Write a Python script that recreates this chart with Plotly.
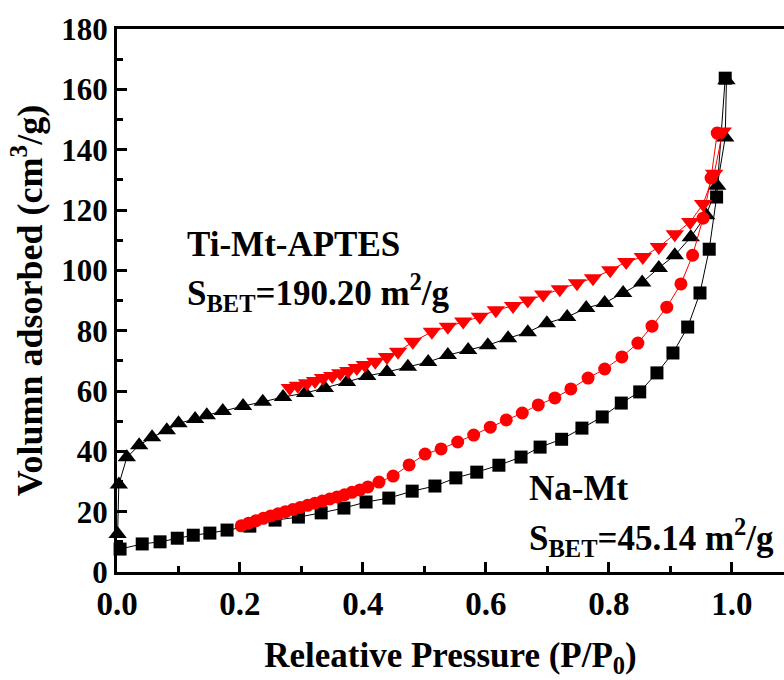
import plotly.graph_objects as go

# Na-Mt adsorption branch (black squares)
na_ads_p = [0.005, 0.041, 0.070, 0.098, 0.124, 0.151, 0.179, 0.216, 0.257, 0.295, 0.332,
            0.369, 0.405, 0.442, 0.480, 0.517, 0.551, 0.585, 0.621, 0.657, 0.688, 0.723,
            0.756, 0.789, 0.820, 0.850, 0.878, 0.904, 0.928, 0.948, 0.963, 0.975, 0.989]
na_ads_v = [7.6, 9.3, 10.0, 11.2, 12.2, 12.9, 13.9, 15.2, 17.2, 18.2, 19.6,
            21.2, 23.2, 24.5, 26.8, 28.5, 31.2, 33.1, 35.4, 38.1, 41.4, 44.0,
            47.7, 51.4, 56.0, 59.7, 66.0, 72.6, 81.2, 92.5, 107.0, 124.3, 163.7]

# Na-Mt desorption branch (red circles)
na_des_p = [0.976, 0.966, 0.953, 0.936, 0.917, 0.894, 0.870, 0.847, 0.821, 0.793, 0.766,
            0.738, 0.712, 0.685, 0.659, 0.633, 0.607, 0.580, 0.554, 0.527, 0.501, 0.475,
            0.449, 0.426, 0.408, 0.395, 0.382, 0.370, 0.358, 0.346, 0.334, 0.322, 0.310,
            0.298, 0.286, 0.274, 0.262, 0.250, 0.238, 0.226, 0.214, 0.202]
na_des_v = [145.5, 130.6, 117.3, 105.0, 95.5, 87.8, 81.5, 75.9, 71.3, 67.3, 64.3,
            60.7, 57.7, 55.4, 52.7, 50.4, 48.0, 45.4, 43.1, 40.8, 39.1, 35.5,
            31.8, 29.8, 28.2, 27.2, 26.4, 25.6, 24.9, 24.2, 23.5, 22.8, 22.1,
            21.4, 20.7, 20.0, 19.3, 18.6, 17.8, 17.0, 16.2, 15.3]

# Ti-Mt-APTES adsorption branch (black up-triangles)
ti_ads_p = [0.001, 0.003, 0.016, 0.036, 0.057, 0.081, 0.100, 0.127, 0.146, 0.172, 0.205,
            0.237, 0.270, 0.306, 0.338, 0.374, 0.407, 0.439, 0.473, 0.506, 0.538, 0.571,
            0.603, 0.636, 0.668, 0.699, 0.732, 0.763, 0.793, 0.823, 0.854, 0.881, 0.907,
            0.933, 0.958, 0.976, 0.989, 0.991]
ti_ads_v = [12.6, 29.0, 38.0, 42.0, 44.7, 47.0, 49.3, 50.7, 52.0, 53.4, 55.0,
            56.4, 58.0, 59.3, 61.0, 63.0, 65.0, 66.3, 68.0, 69.6, 71.9, 73.6,
            75.2, 77.5, 79.5, 82.5, 84.5, 87.5, 89.2, 92.5, 96.0, 100.8, 105.0,
            111.0, 118.3, 128.0, 144.0, 163.0]

# Ti-Mt-APTES desorption branch (red down-triangles)
ti_des_p = [0.985, 0.971, 0.953, 0.932, 0.907, 0.881, 0.855, 0.828, 0.802, 0.774, 0.748,
            0.720, 0.693, 0.668, 0.644, 0.616, 0.590, 0.563, 0.538, 0.512, 0.481, 0.457,
            0.439, 0.420, 0.403, 0.390, 0.376, 0.363, 0.350, 0.335, 0.322, 0.309, 0.294,
            0.281]
ti_des_v = [146.0, 132.0, 122.0, 116.0, 112.0, 107.7, 104.4, 102.8, 100.0, 97.4, 95.7,
            93.7, 92.0, 90.0, 88.2, 86.8, 84.6, 83.0, 81.3, 79.6, 76.3, 73.0,
            71.3, 69.7, 68.6, 67.6, 66.6, 65.9, 65.0, 64.3, 63.3, 62.6, 61.7,
            61.0]

x_ticks = [0.0, 0.2, 0.4, 0.6, 0.8, 1.0]
x_tick_text = ["0.0", "0.2", "0.4", "0.6", "0.8", "1.0"]
y_ticks = [0, 20, 40, 60, 80, 100, 120, 140, 160, 180]
y_tick_text = ["0", "20", "40", "60", "80", "100", "120", "140", "160", "180"]

FONT = "Liberation Serif"
BLACK = "#000000"
RED = "#ff0000"

fig = go.Figure()


def branch(p, v, color, symbol, size):
    fig.add_trace(go.Scatter(
        x=p, y=v, mode="lines+markers",
        line=dict(color=color, width=1),
        marker=dict(symbol=symbol, size=size, color=color, line=dict(width=0)),
        showlegend=False, cliponaxis=False,
    ))


branch(na_ads_p, na_ads_v, BLACK, "square", 13)
branch(ti_ads_p, ti_ads_v, BLACK, "triangle-up", 16)
branch(na_des_p, na_des_v, RED, "circle", 13)
branch(ti_des_p, ti_des_v, RED, "triangle-down", 16)

label_font = dict(family=FONT, size=35, color=BLACK, weight="bold")
notes = [
    (0.111, 108.4, "Ti-Mt-APTES"),
    (0.111, 92.5, "S<sub>BET</sub>=190.20 m<sup>2</sup>/g"),
    (0.667, 27.6, "Na-Mt"),
    (0.667, 11.3, "S<sub>BET</sub>=45.14 m<sup>2</sup>/g"),
]
for nx, ny, txt in notes:
    fig.add_annotation(x=nx, y=ny, xref="x", yref="y", text=txt, showarrow=False,
                       xanchor="left", yanchor="middle", font=label_font)

fig.update_layout(
    width=784, height=680,
    margin=dict(l=117, r=0, t=29, b=108, autoexpand=False),
    plot_bgcolor="white", paper_bgcolor="white",
    font=dict(family=FONT, color=BLACK),
)

fig.update_xaxes(
    range=[0, 1.0846], showgrid=False, zeroline=False, automargin=False,
    showline=True, linecolor=BLACK, linewidth=3, mirror=True,
    ticks="inside", ticklen=10, tickwidth=3, tickcolor=BLACK,
    tickmode="array", tickvals=x_ticks,
    ticktext=["<b>%s</b>" % t for t in x_tick_text],
    tickfont=dict(family=FONT, size=33, color=BLACK),
    minor=dict(tickvals=[0.1, 0.3, 0.5, 0.7, 0.9], ticks="inside", ticklen=6,
               tickwidth=3, tickcolor=BLACK),
    title=dict(text="<b>Releative Pressure (P/P<sub>0</sub>)</b>", standoff=22,
               font=dict(family=FONT, size=35, color=BLACK)),
)

fig.update_yaxes(
    range=[0, 180], showgrid=False, zeroline=False, automargin=False,
    showline=True, linecolor=BLACK, linewidth=3,
    ticks="inside", ticklen=10, tickwidth=3, tickcolor=BLACK,
    tickmode="array", tickvals=y_ticks,
    ticktext=["<b>%s</b>" % t for t in y_tick_text],
    tickfont=dict(family=FONT, size=31, color=BLACK),
    minor=dict(dtick=10, ticks="inside", ticklen=6, tickwidth=3, tickcolor=BLACK),
    title=dict(text="<b>Volumn adsorbed (cm<sup>3</sup>/g)</b>", standoff=8,
               font=dict(family=FONT, size=36, color=BLACK)),
)

fig.write_html("out.html")
